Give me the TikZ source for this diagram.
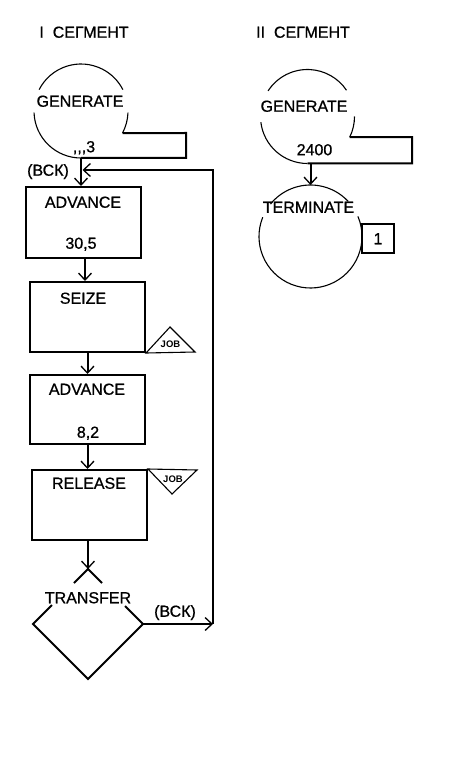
\documentclass[tikz,border=0pt]{standalone}
\usepackage{fontspec}
\setmainfont{Liberation Sans}
\newfontfamily\lblfont{Liberation Sans}[FakeBold=0.8]
\usetikzlibrary{arrows.meta,calc}
\begin{document}
\begin{tikzpicture}[x=1pt,y=-1pt,
  lbl/.style={inner sep=0pt, font=\lblfont\fontsize{16}{18}\selectfont, text height=11.5pt, text depth=0pt},
  joblbl/.style={inner sep=0pt, font=\fontsize{9.5}{10}\selectfont\bfseries, text height=6.8pt, text depth=0pt},
  blk/.style={draw, line width=2pt, rectangle, minimum width=115pt, inner sep=0pt},
  thinl/.style={line width=1.1pt},
  thickl/.style={line width=2pt},
  tipV/.style={-{Straight Barb[length=7pt,width=13pt,line width=1.3pt]}},
  arr/.style={line width=2pt, tipV},
]
\fill[white] (0,0) rectangle (450,759);
\useasboundingbox (0,0) rectangle (450,759);

% titles
\node[lbl] (t1) at (84,32) {I\ \ СЕГМЕНТ};
\node[lbl] (t2) at (303,32) {II\ \ СЕГМЕНТ};

% ---------- Segment I ----------
\coordinate (g1) at (81,111);
\draw[thinl] ([shift={(g1)}]207:47) arc[start angle=207,end angle=333,radius=47];
\draw[thinl] ([shift={(g1)}]178:47) arc[start angle=178,end angle=90,radius=47] coordinate (g1b);
\draw[thinl] ([shift={(g1)}]28:47) coordinate (g1r) arc[start angle=28,end angle=2,radius=47];
\draw[thickl] (g1b) -| (186,133) -- (g1r);
\node[lbl] (g1t) at (80,101) {GENERATE};
\node[lbl] (g1p) at (84,146.5) {,\kern0pt,\kern0pt,\kern0pt3};

\node[blk, minimum height=71pt] (adv1) at (83.5,222.5) {};
\node[lbl] (adv1t) at (83,202) {ADVANCE};
\node[lbl] (adv1b) at (81,243) {30,5};

\node[blk, minimum height=70pt] (seize) at (87.5,317) {};
\node[lbl] (seizet) at (83,298) {SEIZE};

\node[blk, minimum height=69pt] (adv2) at (87.5,409.5) {};
\node[lbl] (adv2t) at (87,389) {ADVANCE};
\node[lbl] (adv2b) at (88,432) {8,2};

\node[blk, minimum height=70pt] (rel) at (89.5,505) {};
\node[lbl] (relt) at (89,483) {RELEASE};

% JOB triangles
\coordinate (j1r) at (195,352);
\coordinate (j1t) at (170,327);
\draw[thinl] (seize.south east) -- (j1r) -- (j1t) -- cycle;
\node[joblbl] (j1) at (170.5,344) {JOB};
\coordinate (j2r) at (197,470);
\coordinate (j2b) at (172,494);
\draw[thinl] (rel.north east) -- (j2r) -- (j2b) -- cycle;
\node[joblbl] (j2) at (173,479) {JOB};

% TRANSFER diamond
\coordinate (trT) at (88,569);
\coordinate (trL) at (33,624);
\coordinate (trB) at (88,679);
\coordinate (trR) at (143,624);
\draw[thickl] (74,583) -- (trT) -- (102,583);
\draw[thickl] (52,605) -- (trL) -- (trB) -- (trR) -- (125,606);
\node[lbl] (trt) at (88,597.5) {TRANSFER};

% connectors
\draw[arr] (g1b) -- (g1b |- adv1.north);
\draw[arr] ($(adv1.south)+(1.5,0)$) -- ($(adv1.south |- seize.north)+(1.5,0)$);
\draw[arr] (seize.south) -- (seize.south |- adv2.north);
\draw[arr] (adv2.south) -- (adv2.south |- rel.north);
\draw[thickl] (trT |- rel.south) -- (trT);
\draw[tipV, line width=0.1pt] ($(trT)+(0,-3)$) -- (trT);

\coordinate (rb) at (213,624);
\coordinate (rt) at (213,170);
\draw[arr] (trR) -- (rb);
\draw[arr] (rb) -- (rt) -- ($(rt -| g1b)+(1.5,0)$);
\node[lbl] (bck1) at (48,170) {(ВСК)};
\node[lbl] (bck2) at (175,611) {(ВСК)};

% ---------- Segment II ----------
\coordinate (g2) at (307.5,116.5);
\draw[thinl] ([shift={(g2)}]213:47) arc[start angle=213,end angle=326,radius=47];
\draw[thinl] ([shift={(g2)}]173:47) arc[start angle=173,end angle=90,radius=47] coordinate (g2b);
\draw[thinl] ([shift={(g2)}]26:47) coordinate (g2r) arc[start angle=26,end angle=0,radius=47];
\draw[thickl] (g2b) -| (412,137.1) -- (g2r);
\node[lbl] (g2t) at (304,106) {GENERATE};
\node[lbl] (g2p) at (314.5,149.5) {2400};

\coordinate (tm) at (310.5,236.5);
\draw[thinl] ([shift={(tm)}]219:51.5) arc[start angle=219,end angle=317,radius=51.5];
\draw[thinl] ([shift={(tm)}]202:51.5) arc[start angle=202,end angle=-23,radius=51.5];
\coordinate (tmT) at ([shift={(tm)}]270:51.5);
\node[lbl] (tmt) at (308.5,207) {TERMINATE};
\node[draw, line width=2pt, minimum width=32pt, minimum height=29pt, inner sep=0pt,
      lbl, inner sep=0pt] (one) at (378,238.5) {1};

\draw[arr] (tmT |- g2b) -- (tmT);
\end{tikzpicture}
\end{document}
